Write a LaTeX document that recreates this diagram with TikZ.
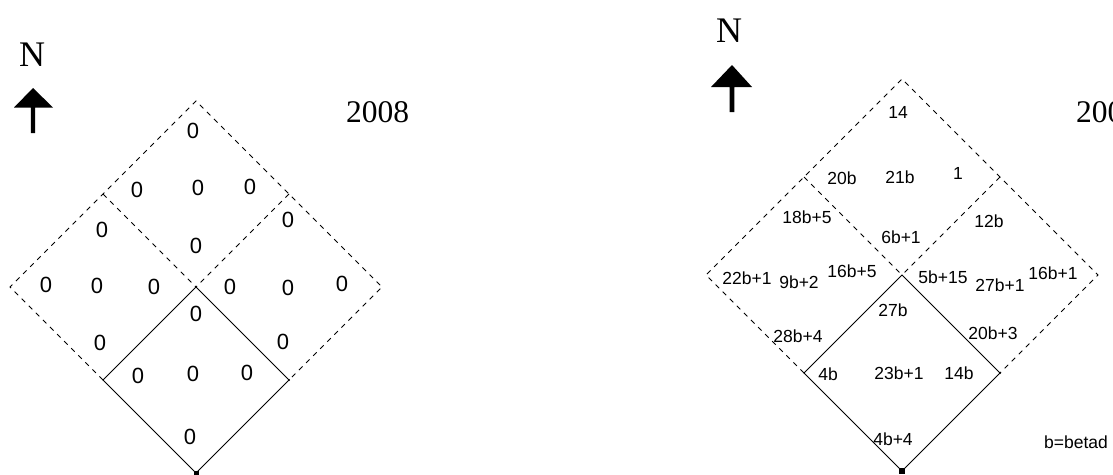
\documentclass[tikz,border=0pt]{standalone}
\usepackage{fontspec}
\setmainfont{Liberation Serif}
\newfontfamily\lblfont{Liberation Sans}
\begin{document}
\begin{tikzpicture}[x=1pt,y=-1pt,
  dashedge/.style={draw=black,line width=0.8pt,dash pattern=on 5pt off 5pt},
  solidedge/.style={draw=black,line width=0.8pt},
  zero/.style={inner sep=0pt,font=\lblfont\fontsize{22}{24}\selectfont},
  lbl/.style={inner sep=0pt,font=\lblfont\fontsize{17.5}{19}\selectfont},
  north/.style={inner sep=0pt,anchor=base,font=\fontsize{36}{40}\selectfont},
  year/.style={inner sep=0pt,anchor=base west,font=\fontsize{31.5}{34}\selectfont},
  arrowhead/.style={fill=black,draw=none}]
\useasboundingbox (0,0) rectangle (1113,474);

% ---------- left diagram (2008) ----------
\coordinate (LT) at (196,101);
\coordinate (LL) at (10,287);
\coordinate (LR) at (382,287);
\coordinate (LB) at (196,473);
\coordinate (LC) at (196,287);
\coordinate (LUL) at (103,194);
\coordinate (LUR) at (289,194);
\coordinate (LLL) at (103,380);
\coordinate (LLR) at (289,380);
\draw[dashedge] (LLL) -- (LL) -- (LT) -- (LR) -- (LLR);
\draw[dashedge] (LUL) -- (LC);
\draw[dashedge] (LUR) -- (LC);
\draw[solidedge] (LC) -- (LLL) -- (LB) -- (LLR) -- cycle;
\fill (LB) ++(-2.5,-2.5) rectangle ++(5,5);
\fill (LLR) circle (1.2);

\node[north] (nL) at (32,66) {N};
\fill[arrowhead] (33,88) -- (53,107.5) -- (35.2,107.5) -- (35.2,133) -- (30.8,133) -- (30.8,107.5) -- (14,107.5) -- cycle;
\node[year] (yL) at (346,122) {2008};

\node[zero] (z1) at (193,131) {0};
\node[zero] (z2) at (137,190) {0};
\node[zero] (z3) at (198,188) {0};
\node[zero] (z4) at (250,187) {0};
\node[zero] (z5) at (102,230) {0};
\node[zero] (z6) at (288,220) {0};
\node[zero] (z7) at (196,246) {0};
\node[zero] (z8) at (46,285) {0};
\node[zero] (z9) at (97,286) {0};
\node[zero] (z10) at (154,287) {0};
\node[zero] (z11) at (230,287) {0};
\node[zero] (z12) at (288,288) {0};
\node[zero] (z13) at (342,284) {0};
\node[zero] (z14) at (196,314) {0};
\node[zero] (z15) at (100,343) {0};
\node[zero] (z16) at (283,342) {0};
\node[zero] (z17) at (138,376) {0};
\node[zero] (z18) at (193,374) {0};
\node[zero] (z19) at (247,373) {0};
\node[zero] (z20) at (190,437) {0};

% ---------- right diagram ----------
\coordinate (RT) at (902,79);
\coordinate (RL) at (706,275);
\coordinate (RR) at (1098,275);
\coordinate (RB) at (902,471);
\coordinate (RC) at (902,275);
\coordinate (RUL) at (804,177);
\coordinate (RUR) at (1000,177);
\coordinate (RLL) at (804,373);
\coordinate (RLR) at (1000,373);
\draw[dashedge] (RLL) -- (RL) -- (RT) -- (RR) -- (RLR);
\draw[dashedge] (RUL) -- (RC);
\draw[dashedge] (RUR) -- (RC);
\draw[solidedge] (RC) -- (RLL) -- (RB) -- (RLR) -- cycle;
\fill (RB) ++(-3,-3) rectangle ++(6,6);
\fill (RLR) circle (1.2);

\node[north] (nR) at (729,42) {N};
\fill[arrowhead] (732,65) -- (752,87) -- (734.3,87) -- (734.3,112) -- (729.7,112) -- (729.7,87) -- (711,87) -- cycle;
\begin{scope}
\clip (0,0) rectangle (1113,474);
\node[year] (yR) at (1076,122) {2009};
\end{scope}

\node[lbl] (r1) at (898,112) {14};
\node[lbl] (r2) at (842,178) {20b};
\node[lbl] (r3) at (900,177) {21b};
\node[lbl] (r4) at (958,173) {1};
\node[lbl] (r5) at (807,217) {18b+5};
\node[lbl] (r6) at (989,221) {12b};
\node[lbl] (r7) at (901,237) {6b+1};
\node[lbl] (r8) at (747,278) {22b+1};
\node[lbl] (r9) at (799,282) {9b+2};
\node[lbl] (r10) at (852,271) {16b+5};
\node[lbl] (r11) at (943,277) {5b+15};
\node[lbl] (r12) at (1000,285) {27b+1};
\node[lbl] (r13) at (1053,273) {16b+1};
\node[lbl] (r14) at (893,310) {27b};
\node[lbl] (r15) at (798,336) {28b+4};
\node[lbl] (r16) at (993,333) {20b+3};
\node[lbl] (r17) at (828,374) {4b};
\node[lbl] (r18) at (899,373) {23b+1};
\node[lbl] (r19) at (959,373) {14b};
\node[lbl] (r20) at (893,439) {4b+4};
\node[lbl] (key) at (1076,442) {b=betad};
\end{tikzpicture}
\end{document}
